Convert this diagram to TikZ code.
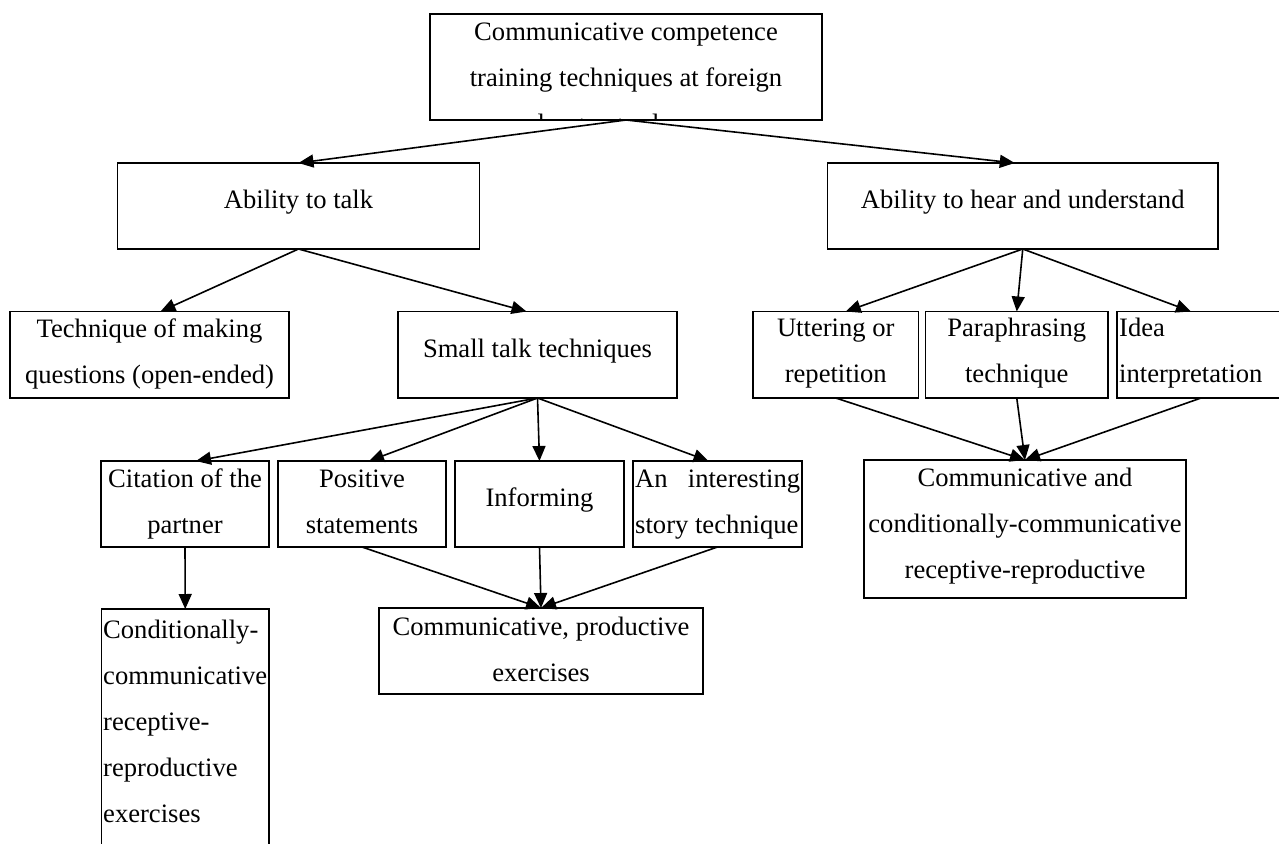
\documentclass[tikz,border=0pt]{standalone}
\usepackage{fontspec}
\setmainfont{Liberation Serif}
\usetikzlibrary{arrows.meta}
\begin{document}
\begin{tikzpicture}[x=1pt,y=-1pt,
  box/.style={draw, line width=1.6pt, inner sep=0pt, outer sep=0pt},
  txt/.style={inner sep=0pt, font=\fontsize{26.6pt}{46pt}\selectfont},
  arr/.style={line width=1.6pt, -{Triangle[length=15pt,width=13pt]}}]
\useasboundingbox (0,0) rectangle (1279,843);
\fill[white] (0,0) rectangle (1279,843);
% boxes
\node[box, minimum width=392pt, minimum height=106pt] (top) at (626,67) {};
\node[box, minimum width=362pt, minimum height=86pt] (ability) at (298.5,206) {};
\node[box, minimum width=390.5pt, minimum height=86pt] (hear) at (1022.75,206) {};
\node[box, minimum width=279pt, minimum height=86.5pt] (tech) at (149.5,354.75) {};
\node[box, minimum width=279pt, minimum height=86.5pt] (small) at (537.5,354.75) {};
\node[box, minimum width=165.5pt, minimum height=86.5pt] (utter) at (835.75,354.75) {};
\node[box, minimum width=182.5pt, minimum height=86.5pt] (para) at (1016.75,354.75) {};
\node[box, minimum width=168pt, minimum height=86.5pt] (idea) at (1201,354.75) {};
\node[box, minimum width=322pt, minimum height=138pt] (cc) at (1025,529) {};
\node[box, minimum width=168pt, minimum height=86pt] (cit) at (185,504) {};
\node[box, minimum width=168pt, minimum height=86pt] (pos) at (362,504) {};
\node[box, minimum width=169pt, minimum height=86pt] (inf) at (539.5,504) {};
\node[box, minimum width=169pt, minimum height=86pt] (int) at (717.5,504) {};
\node[box, minimum width=324pt, minimum height=86pt] (prod) at (541,651) {};
\node[box, minimum width=167.5pt, minimum height=261pt] (cond) at (185.25,739.5) {};
% texts (base anchor = baseline of the last line)
\node[txt, anchor=base, align=center] (ttop) at (626,86) {Communicative competence\\training techniques at foreign};
\begin{scope}
\clip (430,14) rectangle (822,119.5);
\node[txt, anchor=base] (ttop3) at (626,132) {language classes};
\end{scope}
\node[txt, anchor=base] (tabil) at (298.5,208) {Ability to talk};
\node[txt, anchor=base] (thear) at (1022.75,208) {Ability to hear and understand};
\node[txt, anchor=base, align=center] (ttech) at (149.5,383) {Technique of making\\questions (open-ended)};
\node[txt, anchor=base] (tsmall) at (537.5,357) {Small talk techniques};
\node[txt, anchor=base, align=center] (tutter) at (835.75,382) {Uttering or\\repetition};
\node[txt, anchor=base, align=center] (tpara) at (1016.75,382) {Paraphrasing\\technique};
\node[txt, anchor=base west, align=left] (tidea) at (1119,382) {Idea\\interpretation};
\node[txt, anchor=base, align=center] (tcc) at (1025,578) {Communicative and\\conditionally-communicative\\receptive-reproductive};
\node[txt, anchor=base, align=center] (tcit) at (185,533) {Citation of the\\partner};
\node[txt, anchor=base, align=center] (tpos) at (362,533) {Positive\\statements};
\node[txt, anchor=base] (tinf) at (539.5,506) {Informing};
\node[txt, anchor=base west, align=left] (tint) at (635,533) {\hbox to 165pt{An\hfill interesting}\\story technique};
\node[txt, anchor=base, align=center] (tprod) at (541,681) {Communicative, productive\\exercises};
\node[txt, anchor=base west, align=left] (tcond) at (103,822) {Conditionally-\\communicative\\receptive-\\reproductive\\exercises};
% arrows
\draw[arr] (top.south) -- (ability.north);
\draw[arr] (top.south) -- ([xshift=-8pt]hear.north);
\draw[arr] (ability.south) -- ([xshift=11pt]tech.north);
\draw[arr] (ability.south) -- ([xshift=-11pt]small.north);
\draw[arr] (hear.south) -- ([xshift=10pt]utter.north);
\draw[arr] (hear.south) -- (para.north);
\draw[arr] (hear.south) -- ([xshift=-10pt]idea.north);
\draw[arr] (small.south) -- ([xshift=11pt]cit.north);
\draw[arr] (small.south) -- ([xshift=7pt]pos.north);
\draw[arr] (small.south) -- (inf.north);
\draw[arr] (small.south) -- ([xshift=-9pt]int.north);
\draw[arr] (cit.south) -- (cond.north);
\draw[arr] (pos.south) -- (prod.north);
\draw[arr] (inf.south) -- (prod.north);
\draw[arr] (int.south) -- (prod.north);
\draw[arr] (utter.south) -- (cc.north);
\draw[arr] (para.south) -- (cc.north);
\draw[arr] (idea.south) -- (cc.north);
\end{tikzpicture}
\end{document}
